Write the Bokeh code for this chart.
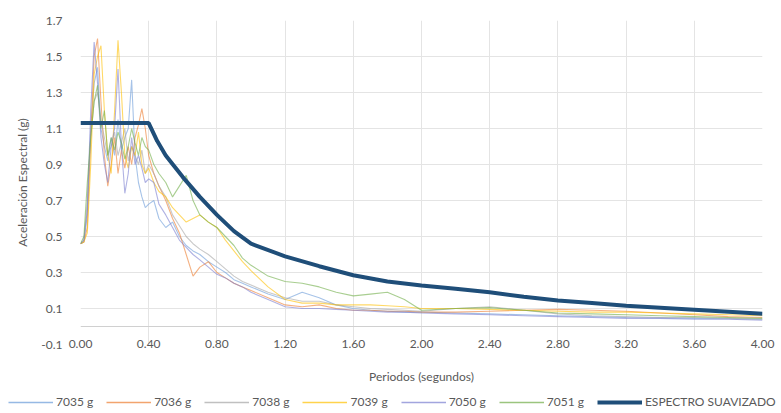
from bokeh.plotting import figure
from bokeh.layouts import column
from bokeh.models import Range1d, FixedTicker, NumeralTickFormatter, Legend, LegendItem, Span
from bokeh.embed import file_html
from bokeh.resources import INLINE

# ---------------- data ----------------
periods = [0.00, 0.02, 0.04, 0.06, 0.08, 0.10, 0.12, 0.14, 0.16, 0.18, 0.20,
           0.22, 0.24, 0.26, 0.28, 0.30, 0.32, 0.34, 0.36, 0.38, 0.40,
           0.43, 0.46, 0.50, 0.54, 0.58, 0.62, 0.66, 0.70, 0.75, 0.80, 0.85, 0.90, 0.95, 1.00,
           1.10, 1.20, 1.30, 1.40, 1.50, 1.60, 1.70, 1.80, 1.90, 2.00,
           2.20, 2.40, 2.60, 2.80, 3.00, 3.20, 3.40, 3.60, 3.80, 4.00]

sa_7035 = [0.46, 0.47, 0.62, 1.10, 1.35, 1.44, 1.10, 1.00, 0.92, 1.05, 0.95,
           1.15, 0.98, 1.05, 1.10, 1.37, 0.95, 0.80, 0.72, 0.66, 0.68,
           0.70, 0.60, 0.55, 0.58, 0.50, 0.45, 0.42, 0.40, 0.36, 0.33, 0.30, 0.26, 0.24, 0.22,
           0.18, 0.15, 0.19, 0.16, 0.12, 0.10, 0.09, 0.085, 0.08, 0.08,
           0.075, 0.07, 0.065, 0.06, 0.055, 0.05, 0.048, 0.045, 0.043, 0.04]
sa_7036 = [0.46, 0.47, 0.55, 1.05, 1.50, 1.60, 1.25, 0.95, 0.78, 0.90, 1.05,
           0.85, 0.98, 0.88, 1.00, 0.90, 1.05, 1.12, 1.21, 1.10, 0.95,
           0.85, 0.78, 0.70, 0.60, 0.52, 0.40, 0.28, 0.33, 0.36, 0.30, 0.27, 0.24, 0.22, 0.20,
           0.16, 0.12, 0.11, 0.12, 0.10, 0.09, 0.09, 0.085, 0.085, 0.08,
           0.08, 0.085, 0.09, 0.095, 0.09, 0.085, 0.075, 0.065, 0.055, 0.05]
sa_7038 = [0.46, 0.48, 0.70, 1.05, 1.25, 1.30, 1.15, 1.05, 0.95, 1.00, 1.08,
           0.95, 1.02, 1.10, 0.92, 1.00, 0.95, 0.90, 0.98, 0.85, 0.90,
           0.85, 0.78, 0.72, 0.62, 0.56, 0.50, 0.46, 0.43, 0.40, 0.36, 0.32, 0.28, 0.25, 0.23,
           0.19, 0.16, 0.14, 0.14, 0.12, 0.11, 0.10, 0.095, 0.09, 0.085,
           0.10, 0.11, 0.09, 0.07, 0.06, 0.055, 0.05, 0.05, 0.045, 0.04]
sa_7039 = [0.46, 0.47, 0.52, 0.90, 1.40, 1.50, 1.56, 1.20, 0.95, 0.85, 1.20,
           1.59, 1.30, 0.95, 0.88, 1.00, 0.95, 1.08, 0.90, 0.85, 0.88,
           0.80, 0.75, 0.72, 0.66, 0.62, 0.58, 0.60, 0.62, 0.58, 0.55, 0.48, 0.42, 0.36, 0.31,
           0.22, 0.15, 0.13, 0.13, 0.12, 0.12, 0.12, 0.115, 0.11, 0.10,
           0.10, 0.095, 0.09, 0.085, 0.08, 0.08, 0.075, 0.07, 0.065, 0.06]
sa_7050 = [0.46, 0.48, 0.65, 1.20, 1.58, 1.35, 1.05, 0.90, 0.80, 1.00, 1.10,
           1.43, 1.00, 0.74, 0.85, 1.05, 0.90, 0.95, 0.88, 0.80, 0.82,
           0.80, 0.68, 0.62, 0.55, 0.48, 0.44, 0.40, 0.37, 0.33, 0.29, 0.27, 0.24, 0.22, 0.19,
           0.15, 0.11, 0.10, 0.10, 0.095, 0.09, 0.085, 0.08, 0.08, 0.075,
           0.07, 0.065, 0.06, 0.055, 0.05, 0.045, 0.045, 0.04, 0.04, 0.035]
sa_7051 = [0.46, 0.50, 0.80, 1.05, 1.25, 1.34, 1.10, 1.20, 0.95, 1.05, 0.98,
           1.08, 1.02, 0.93, 1.00, 1.10, 1.02, 0.95, 1.05, 1.00, 0.98,
           0.90, 0.85, 0.80, 0.72, 0.78, 0.84, 0.70, 0.62, 0.58, 0.55, 0.50, 0.45, 0.38, 0.34,
           0.28, 0.25, 0.24, 0.22, 0.19, 0.17, 0.18, 0.19, 0.15, 0.09,
           0.10, 0.105, 0.09, 0.075, 0.07, 0.065, 0.06, 0.055, 0.05, 0.045]

spec_T = [0.00, 0.40, 0.45, 0.50, 0.55, 0.60, 0.70, 0.80, 0.90, 1.00, 1.20, 1.40, 1.60,
          1.80, 2.00, 2.20, 2.40, 2.60, 2.80, 3.00, 3.20, 3.40, 3.60, 3.80, 4.00]
spec_Sa = [1.13, 1.13, 1.03, 0.95, 0.89, 0.83, 0.72, 0.62, 0.53, 0.46, 0.39, 0.335, 0.285,
           0.25, 0.228, 0.21, 0.19, 0.165, 0.145, 0.13, 0.115, 0.104, 0.093, 0.082, 0.071]

record_names = ["7035 g", "7036 g", "7038 g", "7039 g", "7050 g", "7051 g"]
record_values = [sa_7035, sa_7036, sa_7038, sa_7039, sa_7050, sa_7051]
record_colors = ["#6A9BD8", "#ED7D31", "#A5A5A5", "#FFC000", "#7B7FD0", "#70AD47"]
spectrum_name = "ESPECTRO SUAVIZADO"
spectrum_color = "#1F4E79"

x_ticks = [0.0, 0.4, 0.8, 1.2, 1.6, 2.0, 2.4, 2.8, 3.2, 3.6, 4.0]
y_ticks = [-0.1, 0.1, 0.3, 0.5, 0.7, 0.9, 1.1, 1.3, 1.5, 1.7]

FONT = "Lato"
TXT = "#595959"
REC_ALPHA = 0.6

p = figure(width=781, height=388, output_backend="svg", toolbar_location=None,
           x_range=Range1d(0, 4.0), y_range=Range1d(-0.1, 1.7),
           min_border_left=80, min_border_right=19, min_border_top=20, min_border_bottom=44)
p.frame_align = False
p.outline_line_color = None
p.background_fill_color = "white"
p.border_fill_color = "white"

p.xaxis.ticker = FixedTicker(ticks=x_ticks)
p.yaxis.ticker = FixedTicker(ticks=y_ticks)
p.xaxis.formatter = NumeralTickFormatter(format="0.00")
p.yaxis.formatter = NumeralTickFormatter(format="0.0")
p.ygrid.ticker = FixedTicker(ticks=y_ticks[1:])
for ax in (p.xaxis, p.yaxis):
    ax.axis_line_color = None
    ax.major_tick_line_color = None
    ax.minor_tick_line_color = None
    ax.major_label_text_font = FONT
    ax.major_label_text_font_size = "12px"
    ax.major_label_text_color = TXT
    ax.axis_label_text_font = FONT
    ax.axis_label_text_font_size = "12px"
    ax.axis_label_text_color = TXT
    ax.axis_label_text_font_style = "normal"
p.xaxis.axis_label = "Periodos (segundos)"
p.yaxis.axis_label = "Aceleración Espectral (g)"
p.xaxis.major_label_standoff = -11
p.xaxis.axis_label_standoff = 18
p.yaxis.major_label_standoff = 12
p.yaxis.axis_label_standoff = 8

p.xgrid.grid_line_color = "#e4e4e4"
p.ygrid.grid_line_color = "#e4e4e4"
p.add_layout(Span(location=0, dimension="width", line_color="#d0d0d0", line_width=1))

for vals, col in zip(record_values, record_colors):
    p.line(periods, vals, line_color=col, line_width=1.1, line_alpha=REC_ALPHA)
p.line(spec_T, spec_Sa, line_color=spectrum_color, line_width=4)

# legend strip below the chart (its view range keeps the series out of sight;
# only the legend samples are visible)
lg = figure(width=781, height=25, output_backend="svg", toolbar_location=None,
            x_range=Range1d(0, 4.0), y_range=Range1d(5, 6),
            min_border_left=0, min_border_right=0, min_border_top=0, min_border_bottom=0)
lg.frame_align = False
lg.axis.visible = False
lg.grid.visible = False
lg.outline_line_color = None
items = []
for name, vals, col in zip(record_names, record_values, record_colors):
    r = lg.line(periods, vals, line_color=col, line_width=1.5, line_alpha=0.7)
    items.append(LegendItem(label=name, renderers=[r]))
rs = lg.line(spec_T, spec_Sa, line_color=spectrum_color, line_width=4)
items.append(LegendItem(label=spectrum_name, renderers=[rs]))
legend = Legend(items=items, orientation="horizontal", location=(8, 4),
                glyph_width=45, glyph_height=12, label_standoff=3, spacing=13,
                padding=0, margin=0, border_line_color=None, background_fill_alpha=0,
                label_text_font=FONT, label_text_font_size="12px", label_text_color=TXT)
lg.add_layout(legend)

open("out.html", "w").write(file_html(column(p, lg, spacing=0), INLINE))
